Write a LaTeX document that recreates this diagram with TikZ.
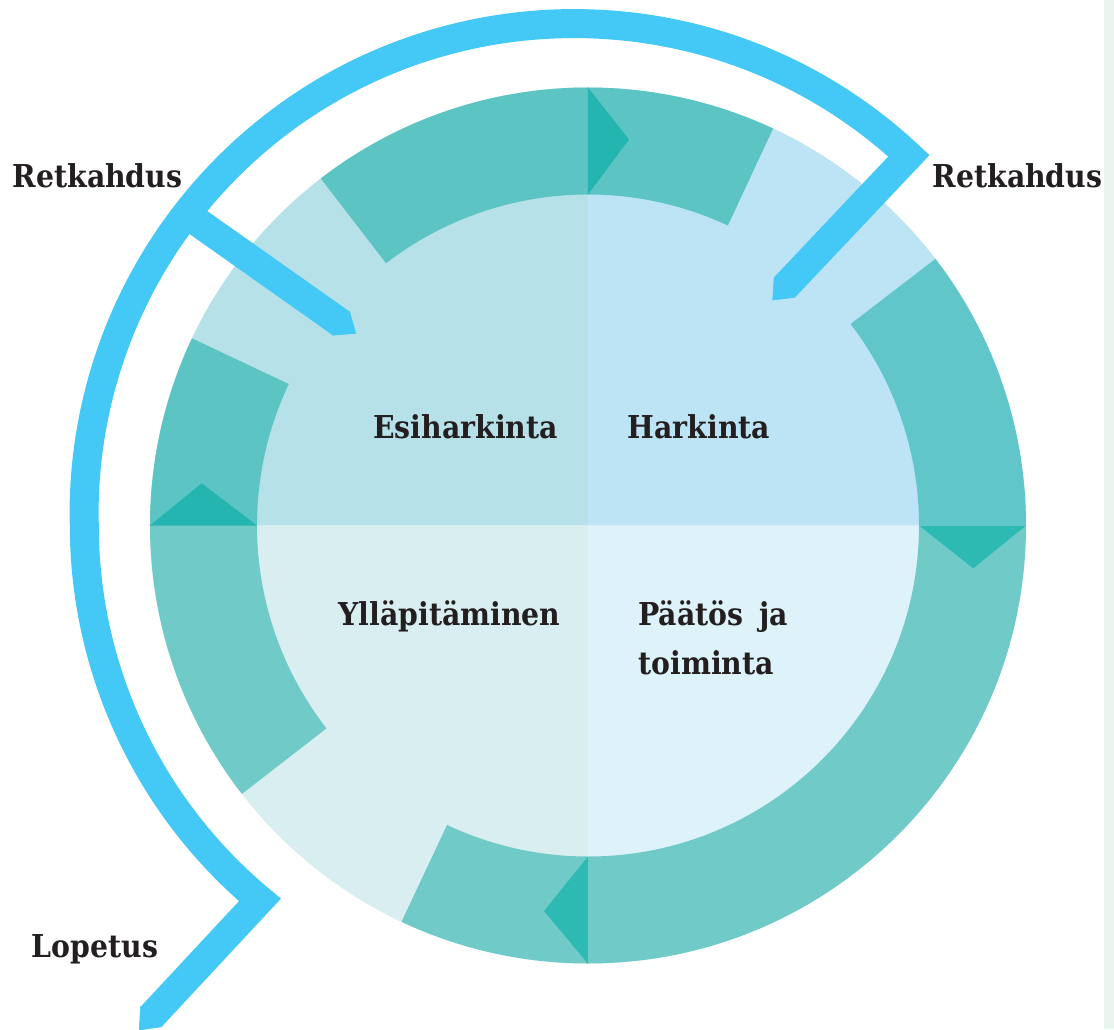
\documentclass[tikz,border=0pt]{standalone}
\usepackage{fontspec}
\usepackage{tikz}
\usepackage{xcolor}
\usetikzlibrary{calc,positioning}
\newfontfamily\stagefont{DejaVu Serif Condensed}
\definecolor{esiblue}{HTML}{B6E1E9}
\definecolor{harkblue}{HTML}{BCE4F4}
\definecolor{yllblue}{HTML}{D9EEF0}
\definecolor{paablue}{HTML}{DEF2F9}
\definecolor{tealtop}{HTML}{5CC5C4}
\definecolor{tealright}{HTML}{61C6C9}
\definecolor{tealbottom}{HTML}{70CAC8}
\definecolor{tipdark}{HTML}{24B5B0}
\definecolor{tipdarktwo}{HTML}{2CBAB3}
\definecolor{skyline}{HTML}{44C8F5}
\definecolor{sidestrip}{HTML}{EBF5EF}
\definecolor{ink}{HTML}{231F20}
\newcommand{\ringpart}[3]{\fill[#1] (#2:331) -- (#2:438) arc[start angle=#2, end angle=#3, radius=438] -- (#3:331) arc[start angle=#3, end angle=#2, radius=331] -- cycle;}
\tikzset{%
	stagetext/.style = {inner sep=0pt, text=ink, font=\stagefont\fontsize{15.75}{19}\selectfont\bfseries}, % quadrant names
	turntext/.style  = {inner sep=0pt, text=ink, font=\stagefont\fontsize{15.75}{19}\selectfont\bfseries}, % outside names
	relapse/.style   = {draw=skyline, line width=14.5pt, line join=miter, line cap=butt}, % blue line
	relapsecap/.style = {fill=skyline, draw=skyline, line width=0.3pt}, % cut line end
}
\begin{document}
\begin{tikzpicture}[x=0.5pt, y=0.5pt]
		\useasboundingbox (-588,-503.5) rectangle (526,525.5);
		\fill[white] (-588,-503.5) rectangle (526,525.5);
		\fill[sidestrip] (516,-503.5) rectangle (526,525.5);
		% quadrants
		\fill[esiblue] (0,0) -- (90:438) arc[start angle=90, end angle=180, radius=438] -- cycle;
		\fill[harkblue] (0,0) -- (0:438) arc[start angle=0, end angle=90, radius=438] -- cycle;
		\fill[yllblue] (0,0) -- (180:438) arc[start angle=180, end angle=270, radius=438] -- cycle;
		\fill[paablue] (0,0) -- (270:438) arc[start angle=270, end angle=360, radius=438] -- cycle;
		% ring
		\ringpart{tealtop}{90}{127.6}
		\ringpart{tealtop}{65}{90}
		\ringpart{tealright}{0}{37.5}
		\ringpart{tealbottom}{270}{360}
		\ringpart{tealbottom}{244.8}{270}
		\ringpart{tealbottom}{180}{217.8}
		\ringpart{tealtop}{154.7}{180}
		\fill[tipdark] (0,331) -- (0,438) -- (41,386) -- cycle;
		\fill[tipdarktwo] (331,0) -- (438,0) -- (385.3,-42.8) -- cycle;
		\fill[tipdarktwo] (0,-331) -- (0,-438) -- (-44,-385.5) -- cycle;
		\fill[tipdark] (-331,0) -- (-438,0) -- (-386.3,42.2) -- cycle;
		% blue line
		\coordinate (endR) at (196.7,238.3);
		\coordinate (bendR) at (320.9,369.7);
		\coordinate (bendL) at (-328.1,-374.4);
		\coordinate (endLop) at (-436.9,-491.3);
		\coordinate (fork) at (-402,311.7);
		\coordinate (endL) at (-246.8,202.1);
		\draw[relapse] (endR) -- (bendR) arc[start angle=46.9, end angle=180, radius=490] -- (-503.7,0.5) arc[start angle=180, end angle=230.2, radius=488] -- (endLop);
		\draw[relapse] (fork) -- (endL);
		\fill[relapsecap] (186.2,248.3) -- (184.7,225.5) -- (207.2,228.3) -- cycle;
		\fill[relapsecap] (-238.4,213.9) -- (-232.3,192.2) -- (-255.2,190.3) -- cycle;
		\fill[relapsecap] (-447.5,-481.4) -- (-448.6,-504.5) -- (-426.3,-501.2) -- cycle;
		% texts
		\node[stagetext, anchor=base] (esi) at (-122.5,87.2) {Esiharkinta};
		\node[stagetext, anchor=base] (hark) at (111,87.5) {Harkinta};
		\node[stagetext, anchor=base] (yll) at (-138.5,-99.5) {Ylläpitäminen};
		\node[stagetext, anchor=base west] (paatos) at (50,-99.5) {Päätös\hspace{0.5em}ja};
		\node[stagetext, anchor=base west] (toim) at ($(paatos.base west)+(0,-49)$) {toiminta};
		\node[turntext, anchor=base] (retL) at (-490.5,338) {Retkahdus};
		\node[turntext, anchor=base] (retR) at (429.5,337.5) {Retkahdus};
		\node[turntext, anchor=base] (lop) at (-493,-432.2) {Lopetus};
		\end{tikzpicture}
\end{document}
